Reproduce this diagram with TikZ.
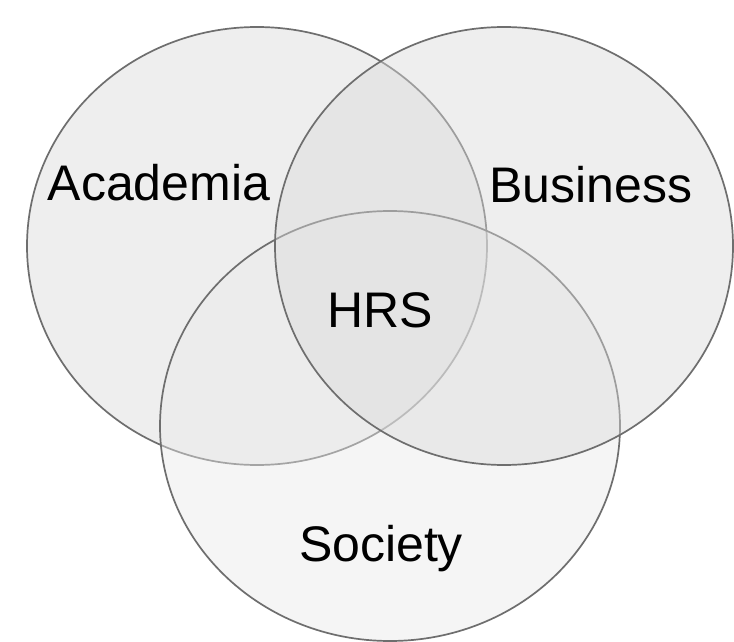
\documentclass[tikz,border=0pt]{standalone}
\usepackage{fontspec}
\setmainfont{Liberation Sans}
\definecolor{setfill}{HTML}{DADADA}
\definecolor{socfill}{HTML}{EAEAEA}
\definecolor{setline}{HTML}{6E6E6E}
\begin{document}
\begin{tikzpicture}[x=1bp,y=-1bp,
  setshape/.style={draw=setline,line width=1.7bp,fill=setfill,fill opacity=0.44},
  socshape/.style={draw=setline,line width=1.7bp,fill=socfill,fill opacity=0.44},
  lbl/.style={anchor=base,inner sep=0pt,font=\fontsize{50bp}{60bp}\selectfont}]
\useasboundingbox (0,0) rectangle (734,642);
\fill[white] (0,0) rectangle (734,642);
\path[setshape] (257,246) ellipse [x radius=230,y radius=219];
\path[socshape] (390,426) ellipse [x radius=230,y radius=215];
\path[setshape] (504,246) ellipse [x radius=229,y radius=219];
\node[lbl] (acad) at (159,201) {Academia};
\node[lbl] (bus) at (591,203) {Business};
\node[lbl] (hrs) at (380,327) {HRS};
\node[lbl] (soc) at (381,561) {Society};
\end{tikzpicture}
\end{document}
